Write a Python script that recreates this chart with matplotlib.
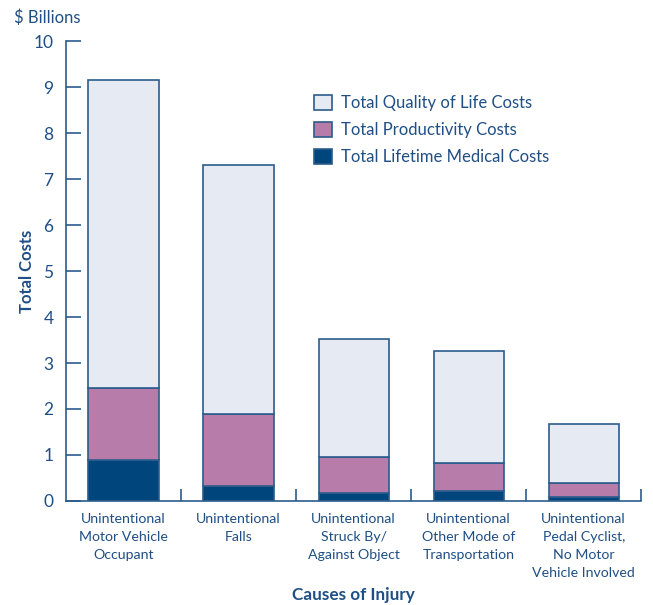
import numpy as np
import matplotlib.pyplot as plt

plt.rcParams['font.family'] = ['Lato', 'DejaVu Sans']

# Data (in $ billions)
causes = ["Unintentional\nMotor Vehicle\nOccupant",
          "Unintentional\nFalls",
          "Unintentional\nStruck By/\nAgainst Object",
          "Unintentional\nOther Mode of\nTransportation",
          "Unintentional\nPedal Cyclist,\nNo Motor\nVehicle Involved"]
medical = [0.89, 0.33, 0.17, 0.22, 0.08]
productivity = [1.57, 1.56, 0.79, 0.60, 0.32]
quality_of_life = [6.69, 5.41, 2.56, 2.44, 1.27]

txt = '#1f4f85'
edge = '#2b5c8c'
c_med = '#00457c'
c_prod = '#b77caa'
c_qol = '#e6eaf2'

fig = plt.figure(figsize=(6.53, 6.05), dpi=100)
ax = fig.add_axes([0.101, 0.172, 0.881, 0.760])

x = np.arange(len(causes))
w = 0.61
med = np.array(medical)
prod = np.array(productivity)
qol = np.array(quality_of_life)

ax.bar(x, med, w, color=c_med, edgecolor=edge, linewidth=1.2,
       label='Total Lifetime Medical Costs')
ax.bar(x, prod, w, bottom=med, color=c_prod, edgecolor=edge, linewidth=1.2,
       label='Total Productivity Costs')
ax.bar(x, qol, w, bottom=med + prod, color=c_qol, edgecolor=edge, linewidth=1.2,
       label='Total Quality of Life Costs')

ax.set_xlim(-0.5, 4.5)
ax.set_ylim(0, 10)
ax.set_yticks(range(0, 11))

ax.set_xticks(x)
ax.set_xticklabels(causes, fontsize=10.2, color=txt, linespacing=1.6)
ax.tick_params(axis='x', which='major', length=0, pad=9)
ax.set_xticks(np.arange(0.5, 5, 1), minor=True)
ax.tick_params(axis='x', which='minor', direction='in', length=9,
               width=1.2, color=edge)
ax.tick_params(axis='y', direction='in', length=11, width=1.2, color=edge,
               labelsize=12.5, labelcolor=txt, pad=9)

for s in ['top', 'right']:
    ax.spines[s].set_visible(False)
for s in ['left', 'bottom']:
    ax.spines[s].set_color(edge)
    ax.spines[s].set_linewidth(1.2)

ax.set_ylabel('Total Costs', fontsize=12, fontweight='bold', color=txt)
ax.yaxis.set_label_coords(-0.054, 0.5)
ax.set_xlabel('Causes of Injury', fontsize=12.3, fontweight='bold', color=txt)
ax.xaxis.set_label_coords(0.5, -0.187)
fig.text(0.021, 0.962, '\\$ Billions', fontsize=12, color=txt,
         ha='left', va='baseline')

handles, labels = ax.get_legend_handles_labels()
leg = ax.legend(handles[::-1], labels[::-1], loc='upper left',
                bbox_to_anchor=(0.417, 0.902), frameon=False, fontsize=12,
                handlelength=1.05, handleheight=1.05, handletextpad=0.55,
                labelspacing=0.65, borderpad=0)
for t in leg.get_texts():
    t.set_color(txt)

fig.savefig('out.png', dpi=100)
